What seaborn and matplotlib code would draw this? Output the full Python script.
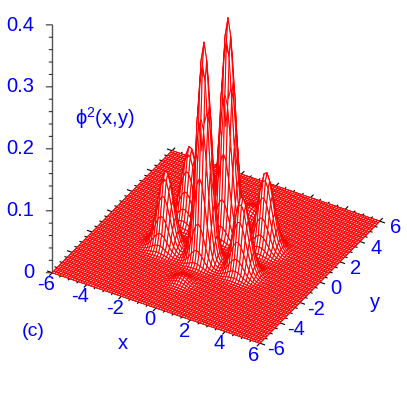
import numpy as np
import matplotlib
matplotlib.use("Agg")
import matplotlib.pyplot as plt
import seaborn as sns
from mpl_toolkits.mplot3d import proj3d

# Peaks: position, height, width in x and y
peak_x = [0.0, 0.0, -2.2, -2.2, 2.2, 2.2, 0.0, 0.0]
peak_y = [1.2, -1.2, -1.2, 1.2, -1.2, 1.2, -3.4, 3.4]
peak_h = [0.35, 0.35, 0.122, 0.122, 0.122, 0.122, 0.01, 0.01]
peak_wx = [0.37, 0.37, 0.42, 0.42, 0.42, 0.42, 0.34, 0.34]
peak_wy = [0.33, 0.33, 0.36, 0.36, 0.36, 0.36, 0.34, 0.34]

base_ticks = [-6, -4, -2, 0, 2, 4, 6]
base_minor = np.arange(-6, 6.01, 0.5)
z_ticks = [0, 0.1, 0.2, 0.3, 0.4]
z_labels = ["0", "0.1", "0.2", "0.3", "0.4"]
z_minor = np.arange(0, 0.401, 0.02)

BLUE = "#0000ff"
RED = "#ff0000"

sns.set_style("white")
plt.rcParams["font.family"] = ["Liberation Sans", "DejaVu Sans"]

W, H = 407, 411
fig = plt.figure(figsize=(W / 100, H / 100), dpi=100)
ax = fig.add_axes([7 / W, 79 / H, 407 / W, 407 / H], projection="3d", proj_type="ortho")
ax.patch.set_alpha(0)
ax.view_init(elev=36, azim=-60)
ax.set_xlim(-6, 6, view_margin=0)
ax.set_ylim(-6, 6, view_margin=0)
ax.set_zlim(0, 0.4, view_margin=0)
ax.set_box_aspect((1, 1, 1.278), zoom=1.09)
ax.set_axis_off()
ax.computed_zorder = False

# surface
grid = np.linspace(-6, 6, 81)
X, Y = np.meshgrid(grid, grid)
Z = np.zeros_like(X)
for px, py, ph, wx, wy in zip(peak_x, peak_y, peak_h, peak_wx, peak_wy):
    Z += ph * np.exp(-(X - px) ** 2 / (2 * wx ** 2) - (Y - py) ** 2 / (2 * wy ** 2))

ax.plot_surface(X, Y, Z, rcount=81, ccount=81, color="white", edgecolor=RED,
                linewidth=0.75, shade=False, antialiased=True, zorder=3)

# base frame with outward ticks
frame = dict(color="black", lw=0.8, zorder=2, solid_capstyle="butt")
for x0, y0, x1, y1 in [(-6, -6, 6, -6), (6, -6, 6, 6), (6, 6, -6, 6), (-6, 6, -6, -6)]:
    ax.plot([x0, x1], [y0, y1], [0, 0], **frame)
for t in base_minor:
    ln = 0.3 if t in base_ticks else 0.16
    ax.plot([t, t], [-6, -6 - ln], [0, 0], **frame)
    ax.plot([t, t], [6, 6 + ln], [0, 0], **frame)
    ax.plot([-6, -6 - ln], [t, t], [0, 0], **frame)
    ax.plot([6, 6 + ln], [t, t], [0, 0], **frame)

# z axis
ax.plot([-6, -6], [-6, -6], [0, 0.4], color="#555555", lw=1.0, zorder=2)
for t in z_minor:
    k = 0.26 if np.any(np.isclose(t, z_ticks)) else 0.13
    ax.plot([-6, -6 - k], [-6, -6 - 0.59 * k], [t, t], color="#333333", lw=0.8, zorder=2)

# the surface reaches below the axes box
for art in ax.collections + ax.lines:
    art.set_clip_on(False)


def label3d(x, y, z, s, **kw):
    # place by the 3d position, drawn as a plain 2d text
    x2, y2, _ = proj3d.proj_transform(x, y, z, ax.get_proj())
    ax.text2D(x2, y2, s, transform=ax.transData, color=BLUE, fontsize=fs, va="center", **kw)


fs = 14.5
for t in base_ticks:
    label3d(t + 0.22, -7.04, 0, str(t), ha="center")
    label3d(6.98, t - 0.1, 0, str(t), ha="center")
for t, lab in zip(z_ticks, z_labels):
    label3d(-6.77, -6.46, t, lab, ha="right")

fig.text(123 / W, 1 - 343 / H, "x", color=BLUE, fontsize=fs, ha="center", va="center")
fig.text(375 / W, 1 - 302 / H, "y", color=BLUE, fontsize=fs, ha="center", va="center")
fig.text(33 / W, 1 - 331 / H, "(c)", color=BLUE, fontsize=14, ha="center", va="center")
fig.text(75 / W, 1 - 125 / H, r"$\mathregular{\phi^2}$(x,y)", color=BLUE, fontsize=14.5,
         ha="left", va="baseline")

fig.savefig("out.png", dpi=100)
